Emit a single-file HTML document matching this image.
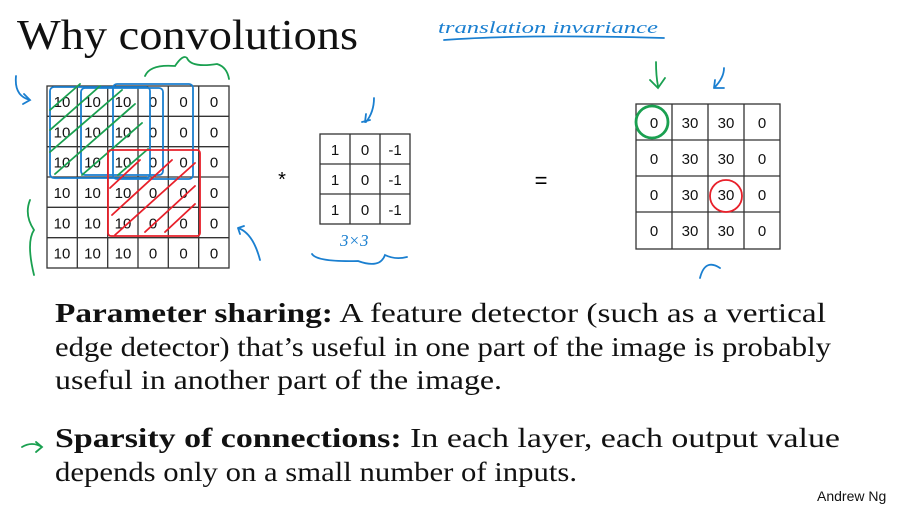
<!DOCTYPE html>
<html><head><style>
body{margin:0;background:#fff;width:909px;height:508px;overflow:hidden;position:relative;font-family:"Liberation Serif",serif}
svg{position:absolute;left:0;top:0}
</style></head><body>
<svg width="909" height="508" font-family="Liberation Sans, sans-serif">
<text x="17" y="49" font-family="Liberation Serif, serif" font-size="42" fill="#111" textLength="341" lengthAdjust="spacingAndGlyphs">Why convolutions</text>
<g stroke="#333" stroke-width="1.3" fill="none">
<rect x="47" y="86" width="182" height="182"/>
<path d="M77.3 86V268M107.7 86V268M138 86V268M168.3 86V268M198.7 86V268M47 116.3H229M47 146.7H229M47 177H229M47 207.3H229M47 237.7H229"/>
<rect x="320" y="134" width="90" height="90"/>
<path d="M350 134V224M380 134V224M320 164H410M320 194H410"/>
<rect x="636" y="104" width="144" height="145"/>
<path d="M672 104V249M708 104V249M744 104V249M636 140H780M636 176H780M636 212H780"/>
</g>
<g font-size="15" fill="#111" text-anchor="middle">
<g id="r"><text x="62" y="107">10</text><text x="92.5" y="107">10</text><text x="123" y="107">10</text><text x="153" y="107">0</text><text x="183.5" y="107">0</text><text x="214" y="107">0</text></g>
<use href="#r" y="30.3"/><use href="#r" y="60.7"/><use href="#r" y="91"/><use href="#r" y="121.3"/><use href="#r" y="151.7"/>
<g id="f"><text x="335" y="155">1</text><text x="365" y="155">0</text><text x="395" y="155">-1</text></g>
<use href="#f" y="30"/><use href="#f" y="60"/>
<g id="o"><text x="654" y="128">0</text><text x="690" y="128">30</text><text x="726" y="128">30</text><text x="762" y="128">0</text></g>
<use href="#o" y="36"/><use href="#o" y="72"/><use href="#o" y="108"/>
</g>
<text x="282" y="186" font-size="20" text-anchor="middle">*</text>
<text x="541" y="188" font-size="22" text-anchor="middle">=</text>
<g fill="none" stroke-width="1.8" stroke-linecap="round">
<g stroke="#1a7fd0">
<rect x="50" y="87" width="100" height="91" rx="4"/><rect x="81" y="88" width="82" height="87" rx="4"/><rect x="113" y="84" width="80" height="95" rx="4"/>
<path d="M16 76q-2 20 14 24M24 94l6 6l-7 4M238 228q15 5 22 32M238 228l6 -2M238 228l2 6M374 98q0 14-8 24M362 122l8-2M366 114l-1 8M312 254q5 8 46 7q22 8 27-6q10 5 22 2M444 40q80 -6 220 -2M724 68q0 10-10 20M714 88l10 0M714 88l1 -8M700 278q5-20 20-10"/>
<text x="438" y="33" font-family="Liberation Serif,serif" font-style="italic" font-size="17" fill="#1a7fd0" stroke="none" textLength="220" lengthAdjust="spacingAndGlyphs">translation   invariance</text>
<text x="340" y="246" font-family="Liberation Serif,serif" font-style="italic" font-size="17" fill="#1a7fd0" stroke="none">3×3</text>
</g>
<g stroke="#1aa050">
<path d="M145 76q5-12 30-10q8-12 12-8q4 10 30 6q10 3 12 15M30 200q-6 15 4 30q-8 12 0 45M50 110l30-26M50 130l50-44M50 152l72-62M55 174l80-70M82 175l60-52M118 175l30-26M656 62q0 14 2 24M650 80l8 8l7-10"/>
<circle cx="652" cy="122" r="16" stroke-width="2.8"/>
</g>
<g stroke="#e8202a">
<rect x="108" y="150" width="92" height="86" rx="3"/>
<path d="M110 188l30-28M112 215l60-55M115 235l80-72M145 232l50-46M165 232l30-28"/>
<circle cx="726" cy="196" r="16"/>
</g>
<path d="M22 447q10 -6 20 0M36 442l6 5l-6 5" stroke="#1aa050"/>
</g>
<g font-family="Liberation Serif, serif" font-size="27" fill="#111">
<text x="55" y="322" textLength="771" lengthAdjust="spacingAndGlyphs"><tspan font-weight="bold">Parameter sharing:</tspan> A feature detector (such as a vertical</text>
<text x="55" y="356" textLength="776" lengthAdjust="spacingAndGlyphs">edge detector) that’s useful in one part of the image is probably</text>
<text x="55" y="389" textLength="447" lengthAdjust="spacingAndGlyphs">useful in another part of the image.</text>
<text x="55" y="447" textLength="785" lengthAdjust="spacingAndGlyphs"><tspan font-weight="bold">Sparsity of connections:</tspan> In each layer, each output value</text>
<text x="55" y="481" textLength="522" lengthAdjust="spacingAndGlyphs">depends only on a small number of inputs.</text>
</g>
<text x="817" y="501" font-size="14" fill="#111">Andrew Ng</text>
</svg>
</body></html>
